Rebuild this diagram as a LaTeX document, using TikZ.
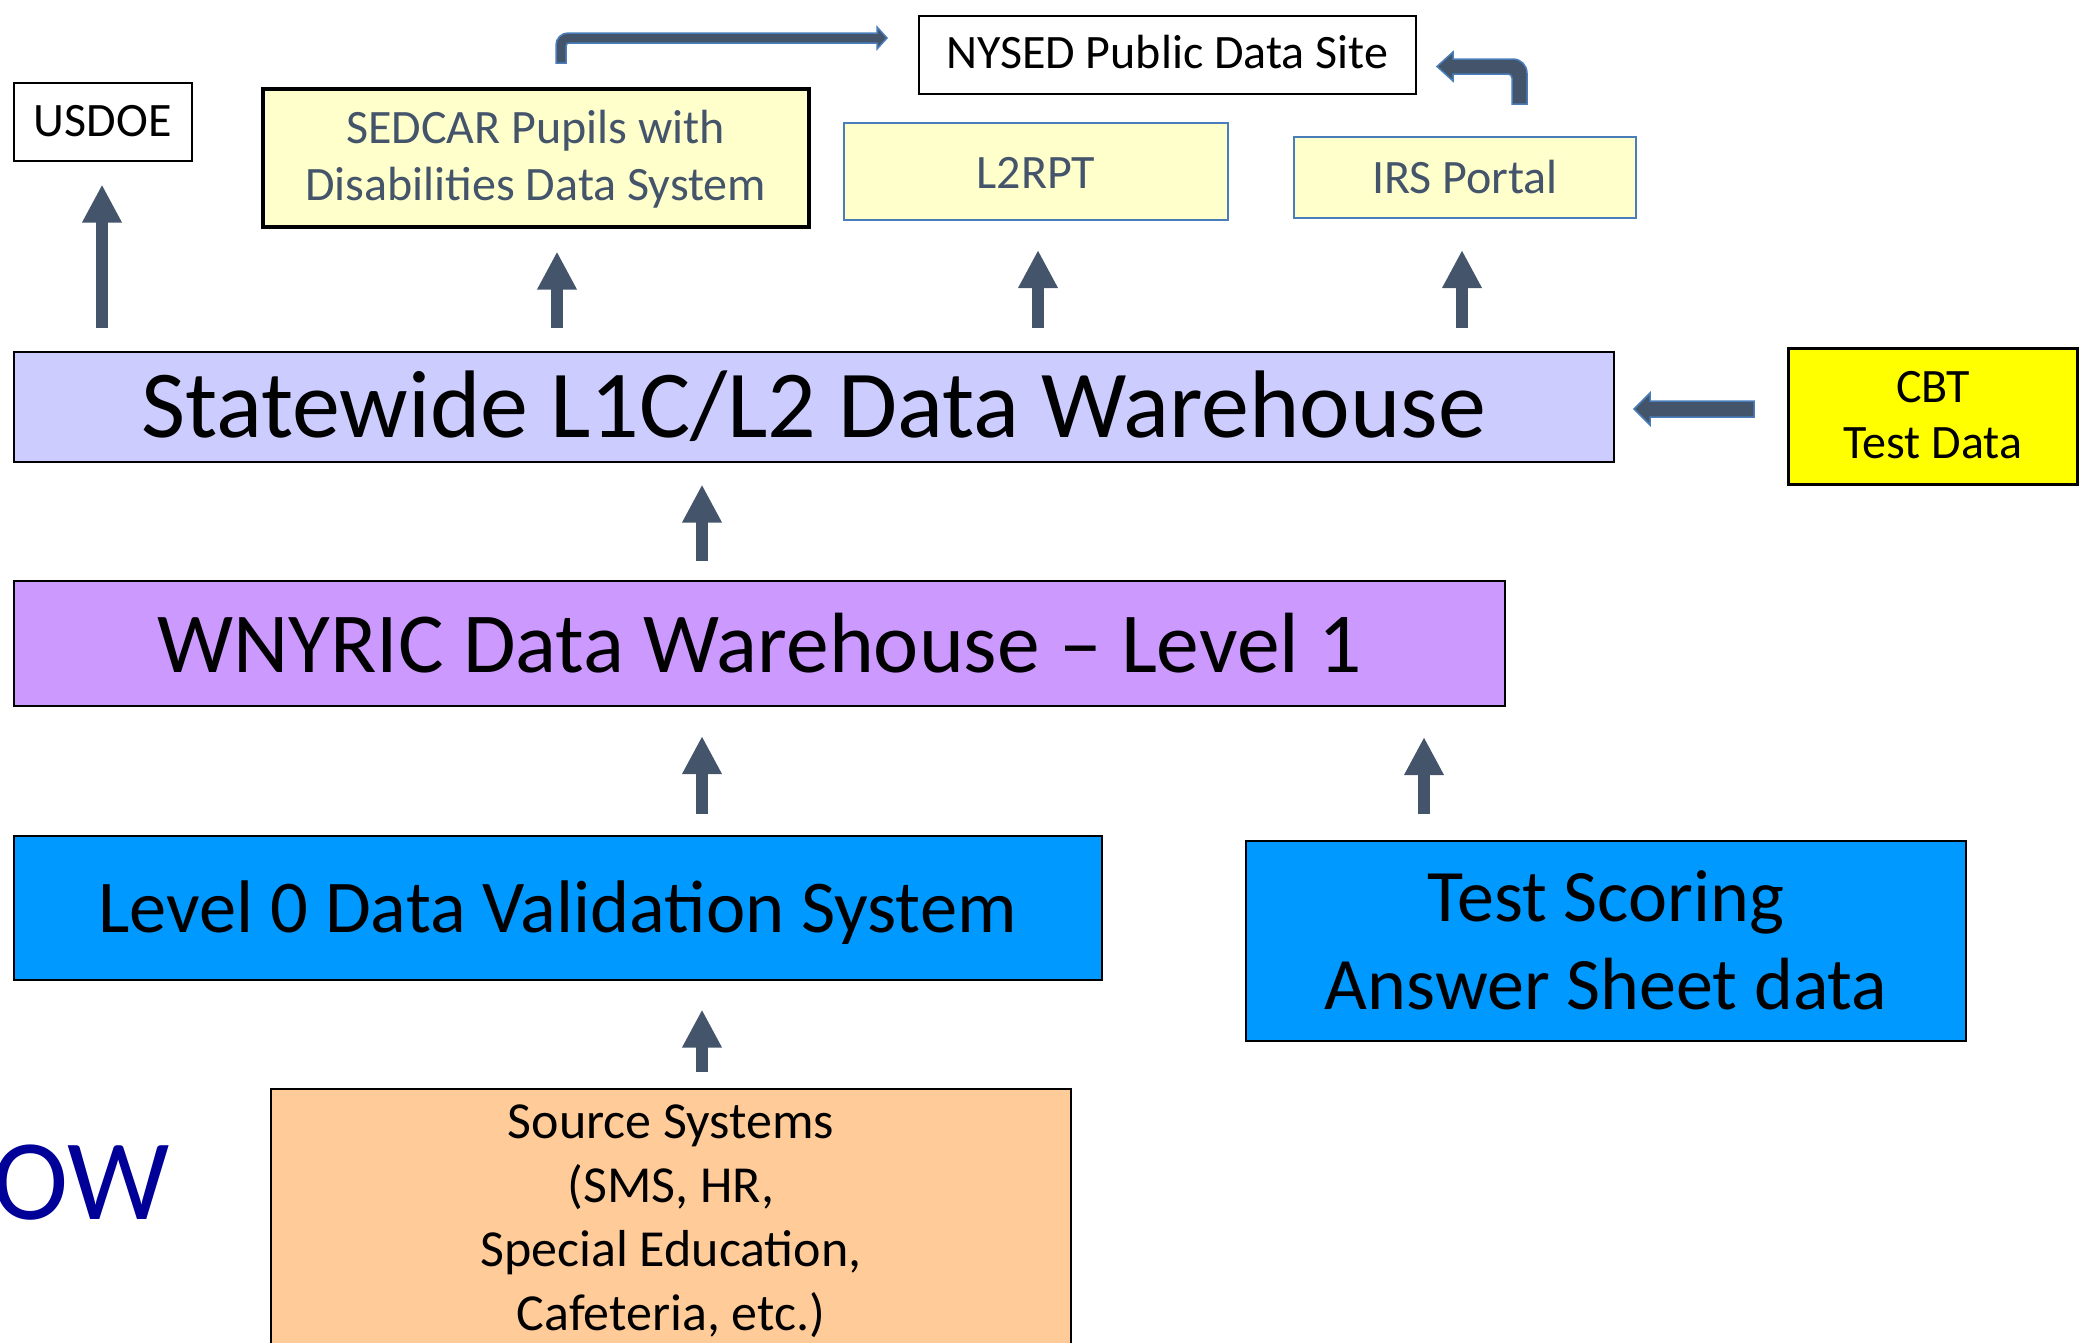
\documentclass[tikz,border=0pt]{standalone}
\usepackage{fontspec}
\setmainfont{Carlito}
\usetikzlibrary{arrows.meta}
\definecolor{slate}{HTML}{44546A}
\definecolor{edgeblue}{HTML}{4A7EBB}
\definecolor{lav}{HTML}{CCCCFF}
\definecolor{lilac}{HTML}{CC99FF}
\definecolor{azure}{HTML}{0099FF}
\definecolor{peach}{HTML}{FFCC99}
\definecolor{paleyel}{HTML}{FFFFCC}
\definecolor{brightyel}{HTML}{FFFF00}
\definecolor{owblue}{HTML}{000099}
\newcommand\fsz[2]{\fontsize{#1pt}{#2pt}\selectfont}
\begin{document}
\begin{tikzpicture}[x=1pt,y=-1pt,
  box/.style={draw=black, line width=1.5pt, inner sep=0pt, anchor=north west, align=center},
  pale/.style={box, draw=edgeblue, line width=2pt, fill=paleyel, text=slate},
  uparr/.style={draw=slate, line width=12pt, -{Triangle[length=38pt,width=37pt]}},
  blockarr/.style={fill=slate, draw=edgeblue, line width=1.5pt, line join=miter}]
\useasboundingbox (0,0) rectangle (2085,1342);
\clip (0,0) rectangle (2085,1342);

% top row
\node[box, fill=white, minimum width=178pt, minimum height=78pt, text height=30pt, text depth=0pt, font=\fsz{48}{58}] (usdoe) at (13,82) {USDOE};
\node[box, fill=paleyel, text=slate, line width=3.5pt, minimum width=546pt, minimum height=138pt, font=\fsz{48}{57}] (sedcar) at (261,87)
  {\rule{0pt}{41pt}SEDCAR Pupils with\\Disabilities Data System\rule[-12pt]{0pt}{12pt}};
\node[box, fill=white, minimum width=497pt, minimum height=78pt, text height=28pt, text depth=0pt, font=\fsz{48}{58}] (nysed) at (918,15) {NYSED Public Data Site};
\node[pale, minimum width=384pt, minimum height=97pt, text height=33pt, text depth=0pt, font=\fsz{48}{58}] (l2rpt) at (843,122) {L2RPT};
\node[pale, minimum width=342pt, minimum height=81pt, text height=31pt, text depth=0pt, font=\fsz{48}{58}] (irs) at (1293,136) {IRS Portal};

% warehouses
\node[box, fill=lav, minimum width=1600pt, minimum height=110pt, text height=62pt, text depth=0pt, font=\fsz{96}{115}] (stw) at (13,351) {Statewide L1C/L2 Data Warehouse};
\node[box, fill=brightyel, line width=3pt, minimum width=289pt, minimum height=136pt, font=\fsz{48}{56}] (cbt) at (1787,347)
  {\rule{0pt}{33pt}CBT\\Test Data\rule[-5pt]{0pt}{5pt}};
\node[box, fill=lilac, line width=2pt, minimum width=1491pt, minimum height=125pt, text height=57pt, text depth=0pt, font=\fsz{85.5}{103}] (wny) at (13,580) {WNYRIC Data Warehouse – Level 1};

% lower row
\node[box, fill=azure, minimum width=1088pt, minimum height=144pt, text height=50pt, text depth=0pt, font=\fsz{74.5}{88}] (lzero) at (13,835) {Level 0 Data Validation System};
\node[box, fill=azure, line width=2pt, minimum width=720pt, minimum height=200pt, font=\fsz{74}{88}] (ts) at (1245,840)
  {\rule{0pt}{53pt}Test Scoring\\Answer Sheet data\rule[-5pt]{0pt}{5pt}};
\node[box, fill=peach, line width=2pt, text width=800pt, inner ysep=4.2pt, align=flush center, font=\fsz{52}{64}] (src) at (270,1088)
  {\strut Source Systems\\(SMS, HR,\\Special Education,\\Cafeteria, etc.)\strut};

\node[anchor=base west, inner sep=0pt, text=owblue, font=\fsz{115}{130}] (ow) at (-8,1219) {OW};

% arrow columns
\coordinate (ax1) at (102,0);
\coordinate (ax2) at (557,0);
\coordinate (ax3) at (1038,0);
\coordinate (ax4) at (1462,0);
\coordinate (ax5) at (702,0);
\coordinate (ax6) at (1424,0);

\draw[uparr, shorten <=23pt, shorten >=23pt] (stw.north -| ax1) -- (usdoe.south -| ax1);
\draw[uparr, shorten <=23pt, shorten >=23pt] (stw.north -| ax2) -- (sedcar.south -| ax2);
\draw[uparr, shorten <=23pt, shorten >=29pt] (stw.north -| ax3) -- (l2rpt.south -| ax3);
\draw[uparr, shorten <=23pt, shorten >=31pt] (stw.north -| ax4) -- (irs.south -| ax4);
\draw[uparr, shorten <=19pt, shorten >=22pt] (wny.north -| ax5) -- (stw.south -| ax5);
\draw[uparr, shorten <=21pt, shorten >=29pt] (lzero.north -| ax5) -- (wny.south -| ax5);
\draw[uparr, shorten <=26pt, shorten >=30pt] (ts.north -| ax6) -- (wny.south -| ax6);
\draw[uparr, shorten <=16pt, shorten >=29pt] (src.north -| ax5) -- (lzero.south -| ax5);

% block arrows
\draw[blockarr] (1754,401) -- (1650,401) -- (1650,393) -- (1634,409) -- (1650,425) -- (1650,417) -- (1754,417) -- cycle;
\draw[blockarr] (556,63) [rounded corners=12pt] -- (556,33) [sharp corners] -- (877,33) -- (877,27) -- (887,38) -- (877,49) -- (877,43) [rounded corners=3pt] -- (566,43) [sharp corners] -- (566,63) -- cycle;
\draw[blockarr] (1527,104) [rounded corners=14pt] -- (1527,59) [sharp corners] -- (1453,59) -- (1453,52) -- (1437,66.5) -- (1453,81) -- (1453,74) [rounded corners=4pt] -- (1512,74) [sharp corners] -- (1512,104) -- cycle;
\end{tikzpicture}
\end{document}
